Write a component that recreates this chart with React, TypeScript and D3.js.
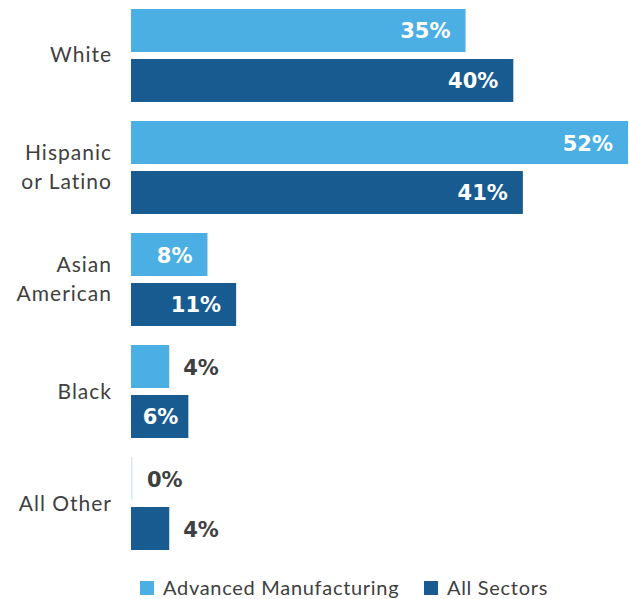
import React from "react";
import * as d3 from "d3";

const categories = ["White", "Hispanic or Latino", "Asian American", "Black", "All Other"];
const categoryLines = [["White"], ["Hispanic", "or Latino"], ["Asian", "American"], ["Black"], ["All Other"]];
const seriesNames = ["Advanced Manufacturing", "All Sectors"];
const advancedManufacturing = [35, 52, 8, 4, 0];
const allSectors = [40, 41, 11, 6, 4];
const seriesColors = ["#4BAFE3", "#175B91"];

const W = 629;
const H = 599;
const FONT = "'Lato', 'Open Sans', sans-serif";
const VFONT = "'DejaVu Sans', sans-serif";
const TEXT = "#404040";

export default function App() {
  const values = [advancedManufacturing, allSectors];
  const x = d3.scaleLinear().domain([0, 52]).range([131, 628]);
  const y = d3.scaleBand<string>().domain(categories).range([9, 550]).paddingInner(0.17).paddingOuter(0);
  const ys = d3.scaleBand<string>().domain(seriesNames).range([0, y.bandwidth()]).paddingInner(0.14);

  const estW = (s: string) => (s.length - 1) * 15.3 + 22;

  return (
    <svg width={W} height={H} style={{ position: "absolute", left: 0, top: 0 }} fontFamily={FONT}>
      {categories.map((c, ci) => {
        const g0 = y(c)!;
        const cy = g0 + y.bandwidth() / 2;
        const lines = categoryLines[ci];
        const lh = 29;
        return (
          <g key={c}>
            {lines.map((l, li) => (
              <text key={l} x={112} y={cy + 7 + (li - (lines.length - 1) / 2) * lh} textAnchor="end" fontSize={21} letterSpacing={1} fill={TEXT}>
                {l}
              </text>
            ))}
            {seriesNames.map((s, si) => {
              const v = values[si][ci];
              const by = g0 + ys(s)!;
              const bw = x(v) - x(0);
              const label = `${v}%`;
              const tw = estW(label);
              const inside = bw >= 50;
              const ty = by + ys.bandwidth() / 2 + 8;
              return (
                <g key={s}>
                  {v === 0 ? (
                    <rect x={x(0)} y={by} width={1.5} height={ys.bandwidth()} fill={seriesColors[si]} opacity={0.25} />
                  ) : (
                    <rect x={x(0)} y={by} width={bw} height={ys.bandwidth()} fill={seriesColors[si]} />
                  )}
                  {inside ? (
                    <text x={x(v) - Math.min(15, Math.max(6, (bw - tw) / 2))} y={ty} textAnchor="end" fontSize={21} fontWeight={700} fontFamily={VFONT} fill="#ffffff">
                      {label}
                    </text>
                  ) : (
                    <text x={x(v) + 14 + (v === 0 ? 2 : 0)} y={ty} textAnchor="start" fontSize={21} fontWeight={700} fontFamily={VFONT} fill={TEXT}>
                      {label}
                    </text>
                  )}
                </g>
              );
            })}
          </g>
        );
      })}
      <g>
        <rect x={140} y={581} width={14} height={14} fill={seriesColors[0]} />
        <text x={163} y={595} fontSize={20} letterSpacing={0.7} fill={TEXT}>{seriesNames[0]}</text>
        <rect x={424} y={581} width={14} height={14} fill={seriesColors[1]} />
        <text x={447} y={595} fontSize={20} letterSpacing={0.7} fill={TEXT}>{seriesNames[1]}</text>
      </g>
    </svg>
  );
}
